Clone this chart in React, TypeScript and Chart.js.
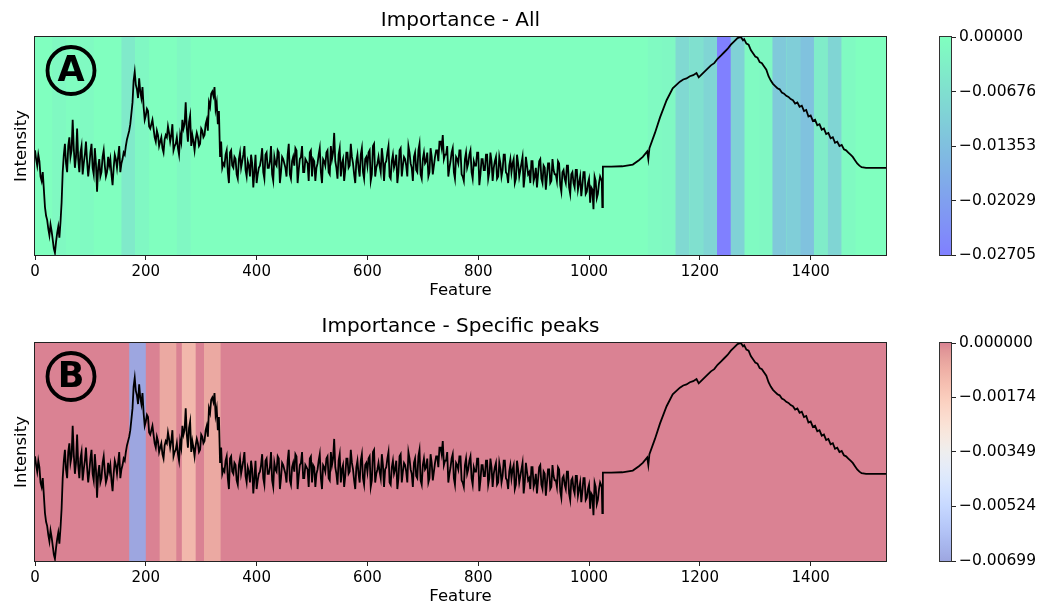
import React, { useEffect, useRef } from "react";
import { Chart, registerables } from "chart.js";
Chart.register(...registerables);

const FONT = "'DejaVu Sans', sans-serif";
Chart.defaults.font.family = FONT;

// ---- spectrum (same curve in both panels) ----
// noisy part read at features 0,4,8,...,1020
const noisyStart = 0;
const noisyStep = 4;
const noisyIntensity = [
  48, 41, 43, 34, 30, 18, 12, 14, 7, 1,
  10, 8, 24, 46, 42, 50, 45, 62, 40, 58,
  38, 50, 42, 52, 36, 47, 40, 49, 29, 44,
  38, 48, 36, 45, 44, 32, 46, 40, 50, 42,
  47, 50, 55, 60, 70, 84, 76, 81, 72, 68,
  64, 66, 58, 62, 54, 57, 50, 54, 47, 55,
  59, 52, 60, 50, 54, 46, 52, 58, 70, 52,
  64, 55, 48, 56, 50, 58, 54, 60, 57, 68,
  75, 77, 70, 66, 52, 42, 46, 38, 47, 41,
  45, 37, 44, 40, 46, 39, 43, 36, 42, 38,
  33, 40, 44, 38, 46, 40, 43, 37, 45, 41,
  47, 38, 44, 40, 46, 37, 43, 41, 48, 39,
  45, 38, 44, 42, 47, 36, 43, 40, 46, 38,
  44, 41, 48, 37, 44, 56, 40, 46, 36, 44,
  39, 47, 41, 45, 37, 43, 40, 46, 38, 44,
  41, 48, 37, 51, 40, 45, 38, 44, 42, 47,
  36, 43, 40, 46, 38, 49, 41, 44, 36, 47,
  40, 45, 39, 48, 37, 44, 42, 47, 38, 45,
  41, 48, 43, 52, 55, 46, 50, 40, 47, 38,
  45, 42, 48, 36, 44, 40, 46, 38, 43, 41,
  47, 37, 44, 39, 46, 38, 43, 40, 45, 36,
  42, 39, 46, 37, 41, 38, 44, 35, 42, 39,
  45, 36, 41, 38, 43, 34, 40, 37, 44, 33,
  40, 36, 42, 34, 39, 37, 43, 32, 38, 35,
  41, 31, 37, 33, 39, 30, 36, 32, 38, 29,
  35, 31, 21, 34, 28, 36, 22
];
// noisy part read at features 2,6,10,...,1018
const noisyMidStart = 2;
const noisyMidIntensity = [
  44, 46, 36, 38, 22, 16, 9, 11, 3, 6,
  13, 15, 38, 51, 38, 54, 48, 49, 45, 44,
  47, 37, 46, 43, 41, 51, 37, 42, 40, 36,
  45, 41, 38, 41, 37, 40, 44, 45, 38, 44,
  46, 53, 57, 65, 80, 78, 72, 75, 77, 62,
  67, 59, 60, 58, 52, 55, 52, 49, 53, 54,
  56, 55, 48, 51, 49, 55, 62, 60, 58, 61,
  50, 52, 53, 54, 51, 57, 55, 62, 70, 74,
  73, 67, 60, 45, 40,
  41, 48, 33, 48, 40, 44, 35, 47, 43, 50,
  36, 41, 46, 31, 46, 37, 41, 49, 35, 47,
  40, 50, 34, 42, 48, 33, 45, 42, 36, 51,
  35, 45, 49, 33, 44, 50, 38, 43, 34, 48,
  44, 34, 42, 49, 33, 43, 47, 38, 50, 47,
  43, 35, 49, 42, 34, 47, 40, 51, 42, 33,
  46, 36, 49, 35, 45, 47, 34, 50, 36, 42,
  41, 49, 34, 43, 50, 35, 46, 42, 33, 48,
  36, 45, 41, 50, 42, 34, 47, 38, 51, 35,
  47, 43, 36, 49, 37, 45, 48, 52, 49, 44,
  46, 36, 43, 49, 35, 44, 48, 37, 34, 47,
  42, 48, 35, 41, 47, 32, 44, 39, 46, 35,
  47, 34, 43, 35, 45, 36, 46, 38, 33, 44,
  42, 33, 46, 36, 42, 31, 45, 37, 33, 43,
  36, 31, 43, 35, 41, 30, 42, 33, 44, 37,
  34, 42, 29, 39, 33, 41, 28, 38, 31, 39,
  33, 27, 38, 28, 33, 24, 30, 36, 26, 33
];
const smoothFeatures = [
  1023, 1025, 1040, 1060, 1079, 1090, 1097, 1105, 1107, 1109,
  1119, 1128, 1140, 1151, 1164, 1170, 1176, 1182, 1188, 1194,
  1198, 1202, 1208, 1214, 1220, 1226, 1232, 1238, 1244, 1250,
  1256, 1262, 1268, 1274, 1278, 1280, 1284, 1288, 1292, 1296,
  1300, 1304, 1308, 1312, 1316, 1320, 1324, 1328, 1332, 1336,
  1340, 1344, 1348, 1352, 1356, 1360, 1364, 1368, 1372, 1376,
  1380, 1384, 1388, 1392, 1396, 1400, 1404, 1408, 1412, 1416,
  1420, 1424, 1428, 1432, 1436, 1440, 1444, 1448, 1452, 1456,
  1460, 1464, 1468, 1472, 1476, 1480, 1484, 1488, 1492, 1500,
  1536
];
const smoothIntensity = [
  34, 40.5, 40.5, 40.7, 41.5, 43.5, 45, 47.5, 44, 49,
  56, 63, 71, 76.5, 79.5, 80.5, 81, 82, 82.5, 83.5,
  81.5, 82.5, 84, 85.5, 87, 88, 90, 91.5, 93, 94.5,
  96.5, 98, 99.5, 100, 98.5, 99, 97, 96.5, 94, 92.5,
  91, 90.5, 88.5, 88, 86.5, 85, 82, 80, 78.5, 77.5,
  76.5, 76, 74.5, 74, 73, 72.5, 71.5, 71, 69.5, 70,
  68, 68.5, 66, 66.5, 63.5, 64, 61.5, 62, 59.5, 60,
  57.5, 58, 55.5, 56, 53.5, 54, 51.5, 52, 50, 50.5,
  48.5, 48, 47, 46, 45, 43.5, 42, 41, 40.3, 40,
  40
];
const featureMax = 1536;
const xTicks = [0, 200, 400, 600, 800, 1000, 1200, 1400];

// ---- importance (A: all) ----
const bandWidthA = 25;
const bandStartA = [31, 56, 81, 156, 181, 256, 1106, 1131, 1156, 1181, 1206, 1231, 1256, 1281, 1306, 1331, 1356, 1381, 1406, 1431, 1456];
const bandValueA = [-0.0012, -0.0005, -0.001, -0.0045, -0.0015, -0.0015, -0.001, -0.0015, -0.008, -0.0065, -0.009, -0.02705, -0.0095, -0.001, -0.0015, -0.0115, -0.0105, -0.013, -0.004, -0.009, -0.001];
const importanceMinA = -0.02705;
const cbarTicksA = [0, -0.00676, -0.01353, -0.02029, -0.02705];
const cbarLabelsA = ["0.00000", "\u22120.00676", "\u22120.01353", "\u22120.02029", "\u22120.02705"];

// ---- importance (B: specific peaks) ----
const bandStartB = [170, 225, 265, 305];
const bandEndB = [200, 255, 290, 335];
const bandValueB = [-0.00699, -0.0007, -0.0011, -0.0007];
const importanceMinB = -0.00699;
const cbarTicksB = [0, -0.00174, -0.00349, -0.00524, -0.00699];
const cbarLabelsB = ["0.000000", "\u22120.00174", "\u22120.00349", "\u22120.00524", "\u22120.00699"];

// coolwarm table (33 entries)
const COOLWARM = [
  [59, 76, 192], [68, 90, 204], [77, 104, 215], [87, 117, 225], [98, 130, 234], [108, 142, 241], [119, 154, 247], [130, 165, 251],
  [141, 176, 254], [152, 185, 255], [163, 194, 255], [174, 201, 253], [184, 208, 249], [194, 213, 244], [204, 217, 238], [213, 219, 230],
  [221, 221, 221], [229, 216, 209], [236, 211, 197], [241, 204, 185], [245, 196, 173], [247, 187, 160], [247, 177, 148], [247, 166, 135],
  [244, 154, 123], [241, 141, 111], [236, 127, 99], [229, 112, 88], [222, 96, 77], [213, 80, 66], [203, 62, 56], [192, 40, 47], [180, 4, 38]
];

function half(c: number[]) {
  return `rgb(${Math.round((c[0] + 255) / 2)},${Math.round((c[1] + 255) / 2)},${Math.round((c[2] + 255) / 2)})`;
}
function winterAt(t: number) {
  return half([0, 255 * t, 255 - 127.5 * t]);
}
function coolwarmAt(t: number) {
  const p = Math.max(0, Math.min(1, t)) * 32;
  const i = Math.min(31, Math.floor(p));
  const f = p - i;
  const a = COOLWARM[i], b = COOLWARM[i + 1];
  return half([a[0] + (b[0] - a[0]) * f, a[1] + (b[1] - a[1]) * f, a[2] + (b[2] - a[2]) * f]);
}

function buildPoints() {
  const pts: { x: number; y: number }[] = [];
  noisyIntensity.forEach((v, i) => pts.push({ x: noisyStart + i * noisyStep, y: v }));
  noisyMidIntensity.forEach((v, i) => pts.push({ x: noisyMidStart + i * noisyStep, y: v }));
  smoothFeatures.forEach((f, i) => pts.push({ x: f, y: smoothIntensity[i] }));
  pts.sort((a, b) => a.x - b.x);
  return pts;
}

function buildMain(canvas: HTMLCanvasElement, title: string, letter: string, bands: { s: number; e: number; v: number }[], colorFn: (v: number) => string) {
  const bandPlugin = {
    id: "bands",
    beforeDatasetsDraw(chart: any) {
      const { ctx, chartArea: a, scales } = chart;
      const xs = scales.x;
      ctx.save();
      ctx.fillStyle = colorFn(0);
      ctx.fillRect(a.left, a.top, a.right - a.left, a.bottom - a.top);
      bands.forEach((b) => {
        const x0 = Math.max(a.left, xs.getPixelForValue(b.s));
        const x1 = Math.min(a.right, xs.getPixelForValue(b.e));
        ctx.fillStyle = colorFn(b.v);
        ctx.fillRect(x0, a.top, x1 - x0, a.bottom - a.top);
      });
      ctx.restore();
    },
    afterDraw(chart: any) {
      const { ctx, chartArea: a } = chart;
      ctx.save();
      ctx.strokeStyle = "#222";
      ctx.lineWidth = 1;
      ctx.strokeRect(Math.round(a.left) - 0.5, Math.round(a.top) - 0.5, Math.round(a.right - a.left) + 1, Math.round(a.bottom - a.top) + 1);
      // circled letter
      ctx.beginPath();
      ctx.arc(71, 70.5, 23.5, 0, Math.PI * 2);
      ctx.lineWidth = 3.8;
      ctx.strokeStyle = "#000";
      ctx.stroke();
      ctx.fillStyle = "#000";
      ctx.font = `bold 35px ${FONT}`;
      ctx.textAlign = "center";
      ctx.textBaseline = "middle";
      ctx.fillText(letter, 71, 72);
      ctx.restore();
    },
  };
  return new Chart(canvas, {
    type: "line",
    data: {
      datasets: [
        { data: buildPoints(), borderColor: "#000", borderWidth: 1.8, pointRadius: 0, tension: 0, fill: false } as any,
      ],
    },
    options: {
      responsive: false,
      animation: false,
      events: [],
      layout: { padding: 0 },
      plugins: {
        legend: { display: false },
        tooltip: { enabled: false },
        title: {
          display: true,
          text: title,
          color: "#000",
          font: { family: FONT, size: 20, weight: "normal", lineHeight: 1.2 },
          padding: { top: 9, bottom: 4 },
        },
      },
      scales: {
        x: {
          type: "linear",
          min: 0,
          max: featureMax,
          afterBuildTicks: (s: any) => {
            s.ticks = xTicks.map((v) => ({ value: v }));
          },
          afterFit: (s: any) => {
            s.height = 44;
          },
          ticks: { autoSkip: false, maxRotation: 0, color: "#000", font: { family: FONT, size: 15 }, padding: 3, callback: (v: any) => String(v) },
          grid: { display: true, drawOnChartArea: false, drawTicks: true, tickLength: 5, color: "#222" },
          border: { display: false },
          title: { display: true, text: "Feature", color: "#000", font: { family: FONT, size: 16.5, lineHeight: 1.2 }, padding: { top: 0, bottom: -2 } },
        },
        y: {
          type: "linear",
          min: 0,
          max: 100,
          afterFit: (s: any) => {
            s.width = 35;
          },
          ticks: { display: false },
          grid: { display: false },
          border: { display: false },
          title: { display: true, text: "Intensity", color: "#000", font: { family: FONT, size: 16.5, lineHeight: 1.2 }, padding: { top: 12, bottom: 0 } },
        },
        yRight: {
          type: "linear",
          position: "right",
          min: 0,
          max: 100,
          afterFit: (s: any) => {
            s.width = 35;
          },
          ticks: { display: false },
          grid: { display: false },
          border: { display: false },
        },
      },
    } as any,
    plugins: [bandPlugin],
  });
}

function buildColorbar(canvas: HTMLCanvasElement, minV: number, ticks: number[], labels: string[], stops: [number, string][]) {
  const gradPlugin = {
    id: "grad",
    beforeDatasetsDraw(chart: any) {
      const { ctx, chartArea: a } = chart;
      ctx.save();
      const g = ctx.createLinearGradient(0, a.bottom, 0, a.top);
      stops.forEach(([p, c]) => g.addColorStop(p, c));
      ctx.fillStyle = g;
      ctx.fillRect(a.left, a.top, a.right - a.left, a.bottom - a.top);
      ctx.strokeStyle = "#333";
      ctx.lineWidth = 1;
      ctx.strokeRect(Math.round(a.left) - 0.5, Math.round(a.top) - 0.5, Math.round(a.right - a.left) + 1, Math.round(a.bottom - a.top) + 1);
      ctx.restore();
    },
  };
  return new Chart(canvas, {
    type: "scatter",
    data: { datasets: [] },
    options: {
      responsive: false,
      animation: false,
      events: [],
      layout: { padding: { left: 19, top: 37, bottom: 44, right: 0 } },
      plugins: { legend: { display: false }, tooltip: { enabled: false }, title: { display: false } },
      scales: {
        x: { display: false, min: 0, max: 1 },
        y: {
          position: "right",
          min: minV,
          max: 0,
          afterBuildTicks: (s: any) => {
            s.ticks = ticks.map((v) => ({ value: v }));
          },
          afterFit: (s: any) => {
            s.width = 91;
          },
          ticks: { autoSkip: false, color: "#000", font: { family: FONT, size: 15.5 }, padding: 3, callback: (_v: any, i: number) => labels[i] },
          grid: { display: true, drawOnChartArea: false, drawTicks: true, tickLength: 5, color: "#222" },
          border: { display: false },
        },
      },
    } as any,
    plugins: [gradPlugin],
  });
}

export default function App() {
  const aRef = useRef<HTMLCanvasElement>(null);
  const caRef = useRef<HTMLCanvasElement>(null);
  const bRef = useRef<HTMLCanvasElement>(null);
  const cbRef = useRef<HTMLCanvasElement>(null);

  useEffect(() => {
    const bandsA = bandStartA.map((s, i) => ({ s, e: s + bandWidthA, v: bandValueA[i] }));
    const bandsB = bandStartB.map((s, i) => ({ s, e: bandEndB[i], v: bandValueB[i] }));
    const colorA = (v: number) => winterAt((v - importanceMinA) / (0 - importanceMinA));
    const colorB = (v: number) => coolwarmAt((v - importanceMinB) / (0 - importanceMinB));
    const stopsA: [number, string][] = [
      [0, winterAt(0)],
      [1, winterAt(1)],
    ];
    const stopsB: [number, string][] = COOLWARM.map((_c, i) => [i / 32, coolwarmAt(i / 32)] as [number, string]);
    const charts = [
      buildMain(aRef.current!, "Importance - All", "A", bandsA, colorA),
      buildColorbar(caRef.current!, importanceMinA, cbarTicksA, cbarLabelsA, stopsA),
      buildMain(bRef.current!, "Importance - Specific peaks", "B", bandsB, colorB),
      buildColorbar(cbRef.current!, importanceMinB, cbarTicksB, cbarLabelsB, stopsB),
    ];
    return () => charts.forEach((c) => c.destroy());
  }, []);

  return (
    <div style={{ position: "absolute", left: 0, top: 0, width: 1042, height: 605, background: "#fff", overflow: "hidden" }}>
      <canvas ref={aRef} width={921} height={299} style={{ position: "absolute", left: 0, top: 0 }} />
      <canvas ref={caRef} width={121} height={299} style={{ position: "absolute", left: 921, top: 0 }} />
      <canvas ref={bRef} width={921} height={299} style={{ position: "absolute", left: 0, top: 306 }} />
      <canvas ref={cbRef} width={121} height={299} style={{ position: "absolute", left: 921, top: 306 }} />
    </div>
  );
}
